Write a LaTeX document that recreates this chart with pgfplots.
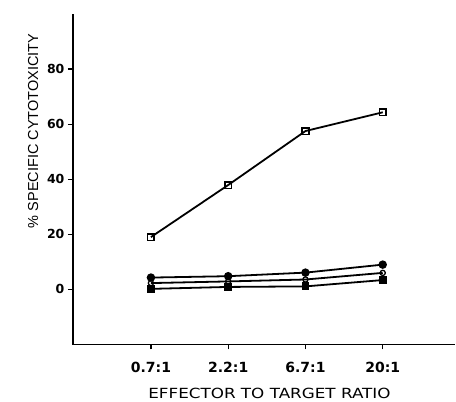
\documentclass[border=0pt]{standalone}
\usepackage{pgfplots}
\pgfplotsset{compat=1.18}
\usepackage{graphicx}
\usepackage{fontspec}
\setmainfont{Liberation Sans}
\newfontfamily\dv{DejaVu Sans}
\begin{document}
\begin{tikzpicture}
\begin{axis}[
  scale only axis, width=383pt, height=331pt,
  xmin=-1.01, xmax=3.94, ymin=-20, ymax=100,
  axis lines=left, axis line style={-, line width=1.3pt},
  xtick={0,1,2,3}, xticklabels={0.7:1,2.2:1,6.7:1,20:1},
  ytick={0,20,40,60,80},
  tick align=outside, tickwidth=5pt,
  xtick style={line width=1.3pt, draw=black},
  ytick style={line width=1.3pt, draw=black},
  /pgf/number format/assume math mode=true,
  xticklabel style={font=\dv\bfseries\fontsize{14}{14}\selectfont, yshift=-9pt},
  yticklabel style={font=\dv\bfseries\fontsize{12.5}{12.5}\selectfont},
  xlabel={\scalebox{1.2}[1]{EFFECTOR TO TARGET RATIO}},
  xlabel style={font=\dv\fontsize{14}{14}\selectfont, at={(axis description cs:0.514,0)}, anchor=north, yshift=-40pt},
  ylabel={\% SPECIFIC CYTOTOXICITY},
  ylabel style={font=\fontsize{14.5}{14.5}\selectfont, at={(axis description cs:-0.104,0.646)}, anchor=center},
  every axis plot/.append style={black, line width=1.8pt, mark size=3.3pt},
  clip=false,
]
\addplot[mark=square, mark options={fill=white, line width=1.6pt}] coordinates {(0,19.0) (1,37.9) (2,57.5) (3,64.3)};
\addplot[mark=*] coordinates {(0,4.3) (1,4.8) (2,6.1) (3,9.0)};
\addplot[mark=square*, mark size=3pt] coordinates {(0,0.2) (1,0.9) (2,1.1) (3,3.4)};
\addplot[mark=o, mark options={fill=white, line width=1.3pt}, mark size=2.6pt] coordinates {(0,2.3) (1,2.9) (2,3.6) (3,6.0)};
\end{axis}
\path (current axis.south west) ++(-73pt,-55pt) coordinate (bl);
\path (current axis.north east) ++(0pt,14pt) coordinate (tr);
\path (bl) rectangle (tr);
\end{tikzpicture}
\end{document}
